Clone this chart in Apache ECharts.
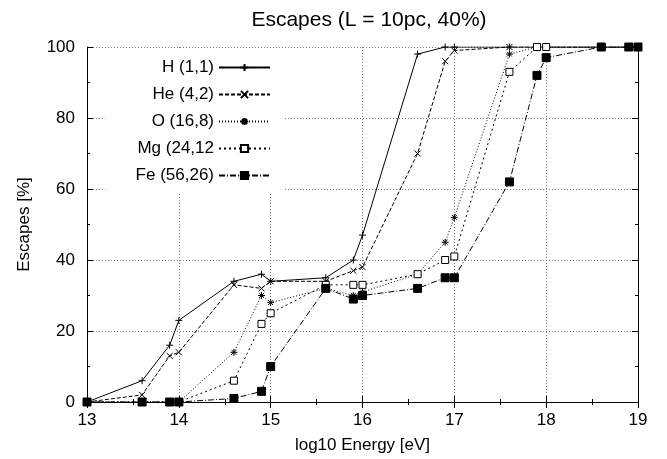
<!DOCTYPE html>
<html>
<head>
<meta charset="utf-8">
<title>Escapes</title>
<script src="https://cdn.jsdelivr.net/npm/echarts@6/dist/echarts.min.js"></script>
<style>
  html, body { margin: 0; padding: 0; background: #fff; }
  #chart { width: 667px; height: 459px; }
</style>
</head>
<body>
<div id="chart"></div>
<script>
// -------------------- data --------------------
const energies = [13, 13.6, 13.9, 14, 14.6, 14.9, 15, 15.6, 15.9, 16, 16.6, 16.9, 17, 17.6, 17.9, 18, 18.6, 18.9, 19]

const hEsc  = [0, 6, 16, 23, 34, 36, 34, 35, 40, 47, 98, 100, 100, 100, 100, 100, 100, 100, 100]
const heEsc = [0, 2, 13, 14, 33, 32, 34, 34, 37, 38, 70, 96, 99, 100, 100, 100, 100, 100, 100]
const oEsc  = [0, 0, 0, 0, 14, 30, 28, 32, 30, 31, 36, 45, 52, 98, 100, 100, 100, 100, 100]
const mgEsc = [0, 0, 0, 0, 6, 22, 25, 33, 33, 33, 36, 40, 41, 93, 100, 100, 100, 100, 100]
const feEsc = [0, 0, 0, 0, 1, 3, 10, 32, 29, 30, 32, 35, 35, 62, 92, 97, 100, 100, 100]

const seriesNames = ['H (1,1)', 'He (4,2)', 'O (16,8)', 'Mg (24,12', 'Fe (56,26)']

// -------------------- styles --------------------
const FONT = 'Liberation Sans, Arial, sans-serif'

// gnuplot-like point types (stroked paths)
const PLUS = 'path://M0,5L10,5M5,0L5,10'
const CROSS = 'path://M0,0L10,10M0,10L10,0'
const STAR = 'path://M0,5L10,5M5,0L5,10M1.5,1.5L8.5,8.5M1.5,8.5L8.5,1.5'

function pairs(ys) {
  return energies.map((x, i) => [x, ys[i]])
}

function makeSeries(name, ys, symbol, size, dash, fill) {
  return {
    name: name,
    type: 'line',
    data: pairs(ys),
    symbol: symbol,
    symbolSize: size,
    showAllSymbol: true,
    animation: false,
    lineStyle: { color: '#000', width: 1, type: dash },
    itemStyle: { color: fill, borderColor: '#000', borderWidth: 1 },
    emphasis: { disabled: true }
  }
}

const tickStyle = { lineStyle: { color: '#000', width: 1 } }

const option = {
  backgroundColor: '#fff',
  animation: false,
  title: {
    text: 'Escapes (L = 10pc, 40%)',
    left: 364,
    textAlign: 'center',
    top: 5,
    textStyle: { fontFamily: FONT, fontSize: 21, fontWeight: 'normal', color: '#000' }
  },
  legend: {
    orient: 'vertical',
    align: 'right',
    right: 384,
    top: 48,
    padding: [11, 12, 8, 30],
    itemGap: 10,
    itemWidth: 51,
    itemHeight: 9,
    backgroundColor: '#fff',
    textStyle: { fontFamily: FONT, fontSize: 17, color: '#000' },
    data: seriesNames
  },
  grid: { left: 87, right: 29, top: 47, bottom: 57 },
  xAxis: [
    {
      type: 'value',
      min: 13, max: 19, interval: 1,
      name: 'log10 Energy [eV]',
      nameLocation: 'middle',
      nameGap: 35,
      nameTextStyle: { fontFamily: FONT, fontSize: 17, color: '#000' },
      axisLine: { show: true, lineStyle: { color: '#000', width: 1 } },
      axisTick: { inside: true, length: 6, ...tickStyle },
      minorTick: { show: true, splitNumber: 2, length: 3, ...tickStyle },
      axisLabel: { margin: 10, fontFamily: FONT, fontSize: 17, color: '#000' },
      splitLine: { show: true, lineStyle: { color: '#777', width: 1, type: [1, 2] } }
    },
    {
      type: 'value', position: 'top',
      min: 13, max: 19, interval: 1,
      axisLine: { show: true, lineStyle: { color: '#000', width: 1 } },
      axisTick: { inside: true, length: 6, ...tickStyle },
      minorTick: { show: true, splitNumber: 2, length: 3, ...tickStyle },
      axisLabel: { show: false },
      splitLine: { show: false }
    }
  ],
  yAxis: [
    {
      type: 'value',
      min: 0, max: 100, interval: 20,
      name: 'Escapes [%]',
      nameLocation: 'middle',
      nameGap: 54,
      nameTextStyle: { fontFamily: FONT, fontSize: 17, color: '#000' },
      axisLine: { show: true, lineStyle: { color: '#000', width: 1 } },
      axisTick: { inside: true, length: 6, ...tickStyle },
      minorTick: { show: true, splitNumber: 2, length: 3, ...tickStyle },
      axisLabel: { margin: 12, fontFamily: FONT, fontSize: 17, color: '#000' },
      splitLine: { show: true, lineStyle: { color: '#777', width: 1, type: [1, 2] } }
    },
    {
      type: 'value', position: 'right',
      min: 0, max: 100, interval: 20,
      axisLine: { show: true, lineStyle: { color: '#000', width: 1 } },
      axisTick: { inside: true, length: 6, ...tickStyle },
      minorTick: { show: true, splitNumber: 2, length: 3, ...tickStyle },
      axisLabel: { show: false },
      splitLine: { show: false }
    }
  ],
  series: [
    makeSeries(seriesNames[0], hEsc, PLUS, 7, 'solid', '#000'),
    makeSeries(seriesNames[1], heEsc, CROSS, 6, [4, 2], '#000'),
    makeSeries(seriesNames[2], oEsc, STAR, 7, [1, 2], '#000'),
    makeSeries(seriesNames[3], mgEsc, 'rect', 7, [2, 3], '#fff'),
    makeSeries(seriesNames[4], feEsc, 'rect', 8, [6, 2, 1, 2], '#000')
  ]
}

const chart = echarts.init(document.getElementById('chart'), null, { renderer: 'canvas' })
chart.setOption(option)
</script>
</body>
</html>
